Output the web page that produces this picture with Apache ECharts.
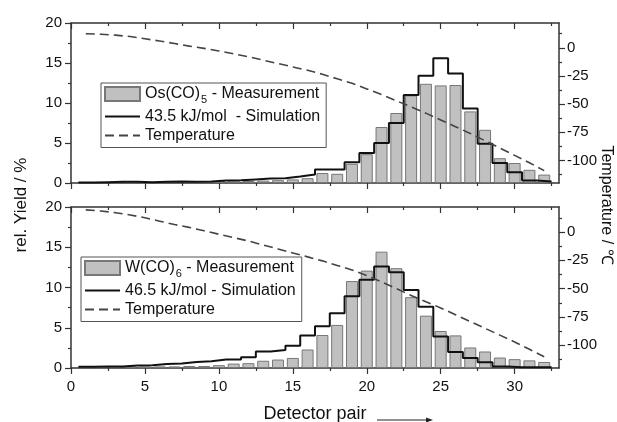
<!DOCTYPE html>
<html>
<head>
<meta charset="utf-8">
<script src="https://cdn.jsdelivr.net/npm/echarts@6/dist/echarts.min.js"></script>
<style>
  html, body { margin: 0; padding: 0; background: #fff; }
  #main { width: 617px; height: 422px; }
</style>
</head>
<body>
<div id="main"></div>
<script>
// detector pairs 1..32
var detectors = [1, 2, 3, 4, 5, 6, 7, 8, 9, 10, 11, 12, 13, 14, 15, 16,
                 17, 18, 19, 20, 21, 22, 23, 24, 25, 26, 27, 28, 29, 30, 31, 32];

// Os(CO)5 panel
var osMeasured = [0.1, 0.1, 0.15, 0.1, 0.1, 0.15, 0.15, 0.15, 0.2, 0.25, 0.3, 0.25, 0.3, 0.35, 0.45, 0.6,
                  1.25, 1.15, 2.4, 3.6, 7.0, 8.75, 10.95, 12.4, 12.2, 12.25, 8.95, 6.65, 3.1, 2.5, 1.65, 1.05];
var osSimulated = [0.05, 0.1, 0.15, 0.15, 0.1, 0.15, 0.2, 0.15, 0.2, 0.3, 0.35, 0.45, 0.55, 0.6, 0.8, 1.05,
                   1.7, 1.7, 2.6, 3.75, 5.0, 7.5, 11.0, 13.4, 15.6, 13.7, 9.3, 4.9, 2.5, 1.35, 0.3, 0.2];
var osTemperature = [12.5, 12, 11.2, 10, 8, 6, 3.8, 1.5, -0.5, -2.8, -5.3, -8, -11, -14, -17, -20,
                     -23.5, -27.5, -31.5, -36.5, -41.5, -47, -52.5, -58, -64, -70, -76, -82.5, -89, -95.5, -102, -109];

// W(CO)6 panel
var wMeasured = [0.25, 0.1, 0.15, 0.2, 0.2, 0.2, 0.2, 0.25, 0.25, 0.35, 0.55, 0.6, 0.9, 1.05, 1.25, 2.3,
                 4.1, 5.35, 10.8, 12.1, 14.45, 12.4, 8.8, 6.5, 4.6, 4.05, 2.55, 2.05, 1.3, 1.1, 0.95, 0.75];
var wSimulated = [0.17, 0.2, 0.2, 0.3, 0.33, 0.5, 0.55, 0.75, 0.85, 1.05, 1.05, 1.35, 2.05, 2.25, 2.75, 4.05,
                  5.2, 6.8, 8.9, 10.95, 12.6, 11.9, 9.7, 7.6, 3.9, 2.0, 1.25, 0.7, 0.2, 0.1, 0.08, 0.08];
var wTemperature = [19.5, 18.5, 17, 15, 12.5, 9.5, 6.5, 4, 1, -2, -5, -8, -11.5, -15, -18.5, -22,
                    -25.5, -29.5, -33.5, -38.5, -44, -50, -56, -61.5, -67, -73, -79, -85, -91, -97, -103.5, -110];

// tick labels
var xMajor = [0, 5, 10, 15, 20, 25, 30];
var xMinor = [2.5, 7.5, 12.5, 17.5, 22.5, 27.5, 32.5];
var tempMajor = [0, -25, -50, -75, -100];
var tempMinor = [12.5, -12.5, -37.5, -62.5, -87.5, -112.5];

var FONT = 'Arial, "Liberation Sans", Helvetica, sans-serif';
var AXIS = '#333';

function pairs(vals) {
  return vals.map(function (v, i) { return [detectors[i], v]; });
}
// histogram outline: each value spans its detector +-0.5
function steps(vals) {
  var pts = [];
  vals.forEach(function (v, i) {
    pts.push([detectors[i] - 0.5, v], [detectors[i] + 0.5, v]);
  });
  return pts;
}

var grids = [
  { left: 71, right: 58, top: 23, height: 160 },
  { left: 71, right: 58, top: 207, height: 161 }
];

// x axes: 4 per grid (bottom major, bottom minor, top major, top minor)
var xAxes = [];
grids.forEach(function (g, gi) {
  var base = { type: 'value', gridIndex: gi, min: 0, max: 33, splitLine: { show: false } };
  var tickStyle = { color: AXIS, width: 1.2 };
  xAxes.push(Object.assign({}, base, {
    position: 'bottom',
    axisLine: { show: true, onZero: false, lineStyle: { color: AXIS, width: 1.5 } },
    axisTick: { show: true, customValues: xMajor, length: 6, lineStyle: tickStyle },
    axisLabel: { show: gi === 1, customValues: xMajor, margin: 11, fontSize: 15, color: '#111', fontFamily: FONT }
  }));
  xAxes.push(Object.assign({}, base, {
    position: 'bottom',
    axisLine: { show: false, onZero: false },
    axisTick: { show: true, customValues: xMinor, length: 3, lineStyle: tickStyle },
    axisLabel: { show: false }
  }));
  xAxes.push(Object.assign({}, base, {
    position: 'top',
    axisLine: { show: true, onZero: false, lineStyle: { color: AXIS, width: 1.5 } },
    axisTick: { show: true, inside: true, customValues: xMajor, length: 6, lineStyle: tickStyle },
    axisLabel: { show: false }
  }));
  xAxes.push(Object.assign({}, base, {
    position: 'top',
    axisLine: { show: false, onZero: false },
    axisTick: { show: true, inside: true, customValues: xMinor, length: 3, lineStyle: tickStyle },
    axisLabel: { show: false }
  }));
});

// y axes: 3 per grid (yield, temperature major, temperature minor)
var yAxes = [];
grids.forEach(function (g, gi) {
  var tickStyle = { color: AXIS, width: 1.2 };
  yAxes.push({
    type: 'value', gridIndex: gi, position: 'left', min: 0, max: 20, interval: 5,
    splitLine: { show: false },
    axisLine: { show: true, onZero: false, lineStyle: { color: AXIS, width: 1.5 } },
    axisTick: { show: true, length: 6, lineStyle: tickStyle },
    minorTick: { show: true, splitNumber: 2, length: 3, lineStyle: tickStyle },
    minorSplitLine: { show: false },
    axisLabel: { margin: 9, fontSize: 15, color: '#111', fontFamily: FONT }
  });
  yAxes.push({
    type: 'value', gridIndex: gi, position: 'right', min: -120, max: 22,
    splitLine: { show: false },
    axisLine: { show: true, onZero: false, lineStyle: { color: AXIS, width: 1.5 } },
    axisTick: { show: true, customValues: tempMajor, length: 6, lineStyle: tickStyle },
    axisLabel: { customValues: tempMajor, margin: 8, fontSize: 15, color: '#111', fontFamily: FONT }
  });
  yAxes.push({
    type: 'value', gridIndex: gi, position: 'right', min: -120, max: 22,
    splitLine: { show: false },
    axisLine: { show: false, onZero: false },
    axisTick: { show: true, customValues: tempMinor, length: 3, lineStyle: tickStyle },
    axisLabel: { show: false }
  });
});

var legendText = {
  'Os(CO)5 - Measurement': '{t|Os(CO)}{s|5}{t| - Measurement}',
  '43.5 kJ/mol  - Simulation': '{t|43.5 kJ/mol  - Simulation}',
  'Temperature': '{t|Temperature}',
  'W(CO)6 - Measurement': '{t|W(CO)}{s|6}{t| - Measurement}',
  '46.5 kJ/mol - Simulation': '{t|46.5 kJ/mol - Simulation}',
  'Temperature ': '{t|Temperature}'
};

function makeLegend(names, left, top) {
  return {
    // bar entry as plain rect; line entries: hide the marker, keep only the line
    data: names.map(function (n, i) {
      return i === 0 ? { name: n, icon: 'rect' } : { name: n, itemStyle: { opacity: 0 } };
    }),
    orient: 'vertical', align: 'left', left: left, top: top,
    itemWidth: 35, itemHeight: 14, itemGap: 3,
    padding: [3, 6, 4, 3],
    borderColor: '#555', borderWidth: 1, backgroundColor: '#fff',
    selectedMode: false,
    formatter: function (name) { return legendText[name]; },
    textStyle: {
      fontSize: 16, color: '#111', fontFamily: FONT,
      rich: {
        t: { fontSize: 16, color: '#111', fontFamily: FONT },
        s: { fontSize: 11, color: '#111', fontFamily: FONT, padding: [12, 0, 0, 1] }
      }
    }
  };
}

var barStyle = { color: '#c0c0c0', borderColor: '#777', borderWidth: 1 };
var simStyle = { color: '#111', width: 2 };
var tempStyle = { color: '#444', width: 1.6, type: [9, 5] };

function panelSeries(gi, measName, meas, simName, sim, tempName, temp) {
  return [
    { name: measName, type: 'bar', xAxisIndex: gi * 4, yAxisIndex: gi * 3,
      data: pairs(meas), barWidth: 12, itemStyle: barStyle },
    { name: simName, type: 'line', xAxisIndex: gi * 4, yAxisIndex: gi * 3,
      data: steps(sim), symbol: 'none', lineStyle: simStyle, itemStyle: { color: '#111' } },
    { name: tempName, type: 'line', xAxisIndex: gi * 4, yAxisIndex: gi * 3 + 1,
      data: pairs(temp), symbol: 'none', lineStyle: tempStyle, itemStyle: { color: '#444' } }
  ];
}

var chart = echarts.init(document.getElementById('main'), null, { renderer: 'canvas' });
chart.setOption({
  animation: false,
  backgroundColor: '#fff',
  grid: grids,
  xAxis: xAxes,
  yAxis: yAxes,
  legend: [
    makeLegend(['Os(CO)5 - Measurement', '43.5 kJ/mol  - Simulation', 'Temperature'], 101, 83),
    makeLegend(['W(CO)6 - Measurement', '46.5 kJ/mol - Simulation', 'Temperature '], 81, 257)
  ],
  series: panelSeries(0, 'Os(CO)5 - Measurement', osMeasured, '43.5 kJ/mol  - Simulation', osSimulated, 'Temperature', osTemperature)
    .concat(panelSeries(1, 'W(CO)6 - Measurement', wMeasured, '46.5 kJ/mol - Simulation', wSimulated, 'Temperature ', wTemperature)),
  graphic: [
    { type: 'text', x: 21, y: 205, rotation: Math.PI / 2,
      style: { text: 'rel. Yield / %', fontSize: 17, fill: '#111', fontFamily: FONT, align: 'center', verticalAlign: 'middle' } },
    { type: 'text', x: 606, y: 205, rotation: -Math.PI / 2,
      style: { text: 'Temperature / ℃', fontSize: 16, fill: '#111', fontFamily: FONT, align: 'center', verticalAlign: 'middle' } },
    { type: 'text', x: 315, y: 414,
      style: { text: 'Detector pair', fontSize: 18, fill: '#111', fontFamily: FONT, align: 'center', verticalAlign: 'middle' } },
    { type: 'line', shape: { x1: 377, y1: 420, x2: 428, y2: 420 }, style: { stroke: '#222', lineWidth: 1 } },
    { type: 'polygon', shape: { points: [[426, 417.5], [433, 420], [426, 422.5]] }, style: { fill: '#222' } }
  ]
});
</script>
</body>
</html>
